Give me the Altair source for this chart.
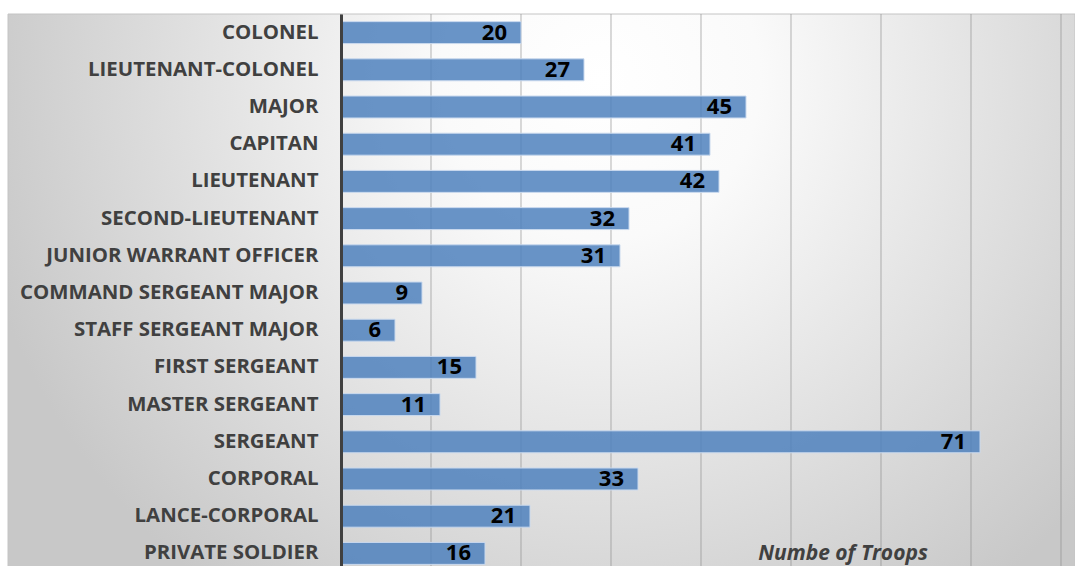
import altair as alt
import pandas as pd

ranks = [
    "COLONEL", "LIEUTENANT-COLONEL", "MAJOR", "CAPITAN", "LIEUTENANT",
    "SECOND-LIEUTENANT", "JUNIOR WARRANT OFFICER", "COMMAND SERGEANT MAJOR",
    "STAFF SERGEANT MAJOR", "FIRST SERGEANT", "MASTER SERGEANT", "SERGEANT",
    "CORPORAL", "LANCE-CORPORAL", "PRIVATE SOLDIER",
]
troops = [20, 27, 45, 41, 42, 32, 31, 9, 6, 15, 11, 71, 33, 21, 16]
grid_ticks = [0, 10, 20, 30, 40, 50, 60, 70, 80]
axis_title = "Numbe of Troops"

W, H = 720, 558

df = pd.DataFrame({"rank": ranks, "troops": troops})
grid_df = pd.DataFrame({"t": grid_ticks})

x_scale = alt.Scale(domain=[0, 80], nice=False, zero=True)
y_enc_kwargs = dict(sort=ranks, scale=alt.Scale(paddingInner=0.41, paddingOuter=0.205))

bg_fill = alt.Gradient(
    gradient="radial",
    stops=[
        alt.GradientStop(color="#ffffff", offset=0),
        alt.GradientStop(color="#fafafa", offset=0.25),
        alt.GradientStop(color="#c8c8c8", offset=1),
    ],
    x1=0.555, y1=0.30, r1=0,
    x2=0.555, y2=0.30, r2=0.6,
)

bg = alt.Chart(pd.DataFrame({"a": [0]})).mark_rect(
    fill=bg_fill, stroke="#c4c4c4", strokeWidth=1
).encode(
    x=alt.value(-333), x2=alt.value(734), y=alt.value(0), y2=alt.value(H)
)

grid = alt.Chart(grid_df).mark_rule(
    color="#8c8c8c", strokeWidth=1.2, opacity=0.55
).encode(x=alt.X("t:Q", scale=x_scale, axis=None))

bars = alt.Chart(df).mark_bar(
    fill="#4f81bd", fillOpacity=0.85, stroke="#c9d9ee", strokeWidth=1
).encode(
    x=alt.X("troops:Q", scale=x_scale, axis=None),
    y=alt.Y(
        "rank:N",
        axis=alt.Axis(
            title=None, ticks=False, tickSize=0, grid=False,
            domainColor="#404040", domainWidth=3,
            labelFont="Open Sans", labelFontSize=20.4, labelFontWeight="bold",
            labelColor="#404040", labelPadding=23, labelLimit=400, zindex=1,
        ),
        **y_enc_kwargs,
    ),
)

labels = alt.Chart(df).mark_text(
    align="right", baseline="middle", dx=-14, dy=0,
    font="Open Sans", fontSize=22, fontWeight="bold", color="#000000",
).encode(
    x=alt.X("troops:Q", scale=x_scale, axis=None),
    y=alt.Y("rank:N", **y_enc_kwargs),
    text="troops:Q",
)

title = alt.Chart(pd.DataFrame({"label": [axis_title]})).mark_text(
    font="Open Sans", fontSize=21, fontWeight="bold", fontStyle="italic",
    color="#404040", align="center", baseline="alphabetic",
).encode(x=alt.value(502), y=alt.value(546), text="label:N")

chart = alt.layer(bg, grid, bars, labels, title).properties(
    width=W, height=H,
    autosize=alt.AutoSizeParams(type="none"),
    padding={"left": 341, "top": 14, "right": 14, "bottom": 0},
    background="white",
).configure_view(stroke=None)

chart.save("out.html", embed_options={"renderer": "svg", "actions": False})
